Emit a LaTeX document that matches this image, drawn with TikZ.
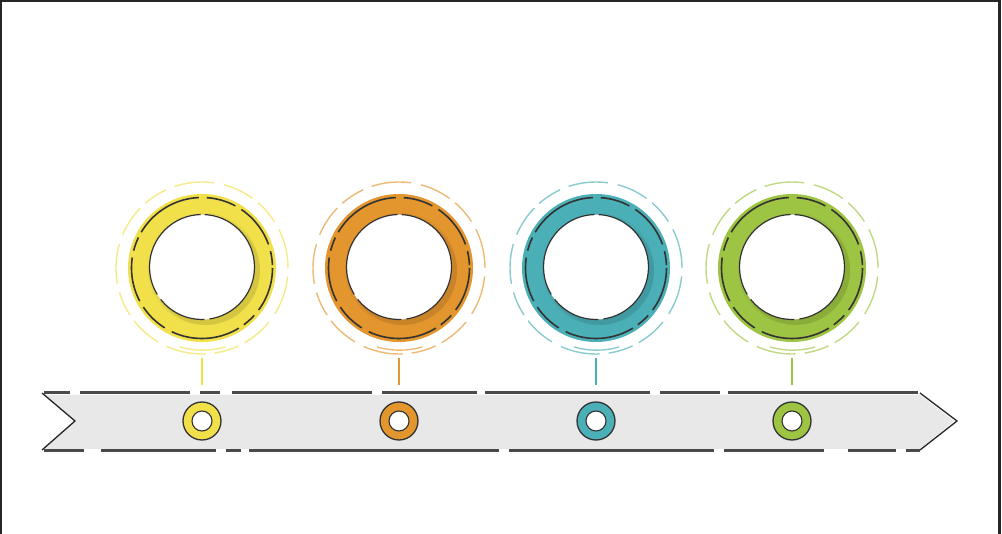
\documentclass[tikz,border=0pt]{standalone}
\usetikzlibrary{calc}
\definecolor{cyel}{HTML}{F1E04A}
\definecolor{corg}{HTML}{E3952E}
\definecolor{cteal}{HTML}{4AAFB6}
\definecolor{cgrn}{HTML}{9DC442}
\definecolor{barfill}{HTML}{E8E8E8}
\definecolor{barline}{HTML}{4A4A4A}
\tikzset{
  ringnode/.style={circle, minimum size=172pt, inner sep=0pt, draw=#1!65, line width=1.4pt,
     dash pattern=on 40pt off 9pt on 25pt off 7pt on 32pt off 10pt},
  dotnode/.style={circle, minimum size=38pt, inner sep=0pt, fill=#1, draw=black!80, line width=1.3pt},
  link/.style={draw=#1, line width=2.6pt},
  baredge/.style={draw=barline, line width=2.6pt},
  notch/.style={draw=black!85, line width=1.3pt, line join=miter}
}
\begin{document}
\begin{tikzpicture}[x=1pt,y=-1pt]
\useasboundingbox (0,0) rectangle (1002,534);
\fill[white] (0,0) rectangle (1002,534);
% frame
\draw[black!85, line width=2pt] (1,534) -- (1,1) -- (999.5,1);
\draw[black!85, line width=3pt] (999.5,0) -- (999.5,534);

% bar
\fill[barfill] (44,395) -- (920,395) -- (954,421) -- (920,449) -- (44,449) -- (74,421) -- cycle;
\draw[notch] (42,393) -- (75,421) -- (42,450);
\draw[notch] (920,393) -- (957,421) -- (920,450);
\draw[baredge, dash pattern=on 26pt off 10pt on 110pt off 10pt on 20pt off 12pt on 140pt off 10pt on 95pt off 8pt on 165pt off 10pt on 60pt off 8pt on 190pt off 6pt]
  (44,392.5) -- (920,392.5);
\draw[baredge, dash pattern=on 40pt off 17pt on 115pt off 10pt on 15pt off 8pt on 250pt off 10pt on 205pt off 10pt on 100pt off 24pt on 48pt off 10pt on 30pt off 5pt on 60pt]
  (44,450.5) -- (920,450.5);

\foreach \i/\x/\c in {1/202/cyel, 2/399/corg, 3/596/cteal, 4/792/cgrn} {
  % big ring
  \fill[\c] (\x,268) circle[radius=74];
  \fill[\c!70!black, opacity=0.3] (\x+4,271) circle[radius=54];
  \fill[\c!80!black, opacity=0.2] (\x+2,269) circle[radius=56];
  \fill[white] (\x,267) circle[radius=52.5];
  \draw[black!80, line width=1.2pt, dash pattern=on 75pt off 5pt on 50pt off 6pt on 110pt off 4pt on 80pt off 6pt] (\x,267) circle[radius=52.5];
  \draw[black!80, line width=1.6pt, dash pattern=on 45pt off 7pt on 14pt off 6pt on 70pt off 8pt on 30pt off 7pt] (\x,268) circle[radius=70.5];
  \node[ringnode=\c] (c\i) at (\x,268) {};
  \draw[\c!65, line width=1.4pt] ($(c\i.center)+(-22,79)$) arc[start angle=106, end angle=74, radius=82] coordinate (u\i);
  % small dot
  \node[dotnode=\c] (s\i) at (\x,421) {};
  \fill[white] (s\i.center) circle[radius=10];
  \draw[black!80, line width=1.1pt] (s\i.center) circle[radius=10];
  % connector
  \coordinate (t\i) at ($(c\i.south)+(0,3)$);
  \coordinate (b\i) at (\x,385);
  \draw[link=\c] (t\i) -- (b\i);
}
\end{tikzpicture}
\end{document}
